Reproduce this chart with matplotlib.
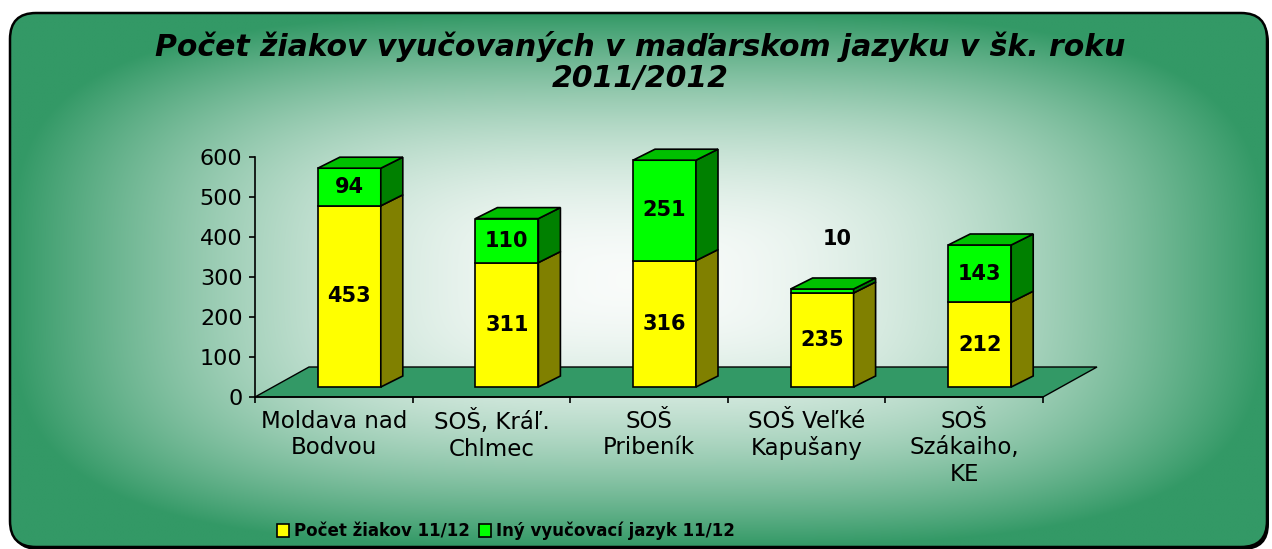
import numpy as np
import matplotlib.pyplot as plt
from matplotlib.patches import Polygon, Rectangle, FancyBboxPatch, Patch

plt.rcParams['font.family'] = ['DejaVu Sans']

CATEGORIES = ['Moldava nad\nBodvou', 'SOŠ, Kráľ.\nChlmec', 'SOŠ\nPribeník',
              'SOŠ Veľké\nKapušany', 'SOŠ\nSzákaiho,\nKE']
POCET = [453, 311, 316, 235, 212]
INY = [94, 110, 251, 10, 143]
SERIES = ['Počet žiakov 11/12', 'Iný vyučovací jazyk 11/12']
TITLE = 'Počet žiakov vyučovaných v maďarskom jazyku v šk. roku\n2011/2012'
YTICKS = [0, 100, 200, 300, 400, 500, 600]

W, H = 1272, 549

# face colours: front, side, top
YELLOW = ('#ffff00', '#808000', '#c0c000')
GREEN = ('#00ff00', '#008000', '#00c000')
FLOOR = '#339966'


def main() -> None:
    fig = plt.figure(figsize=(W / 100, H / 100), dpi=100)

    # rounded frame with a "from center" gradient
    bg = fig.add_axes([0, 0, 1, 1], zorder=-10)
    x0, y0, x1, y1 = 10, 13, 1267, 547
    cx, cy = (x0 + x1) / 2, (y0 + y1) / 2
    xx, yy = np.meshgrid(np.linspace(x0, x1, 700), np.linspace(y0, y1, 320))
    p = 3.5
    t = ((np.abs(xx - cx) / ((x1 - x0) / 2)) ** p + (np.abs(yy - cy) / ((y1 - y0) / 2)) ** p) ** (1 / p)
    f = np.clip(t, 0, 1) ** 1.9
    c_in = np.array([0.975, 0.985, 0.98])
    c_out = np.array([51, 153, 102]) / 255
    img = c_in * (1 - f[..., None]) + c_out * f[..., None]
    im = bg.imshow(img, extent=(x0, x1, y1, y0), aspect='auto', interpolation='bilinear')
    shadow = FancyBboxPatch((x0 + 2, y0 + 3), x1 - x0, y1 - y0,
                            boxstyle='round,pad=0,rounding_size=26', fc='black', ec='none', zorder=-1)
    bg.add_patch(shadow)
    frame = FancyBboxPatch((x0, y0), x1 - x0, y1 - y0,
                           boxstyle='round,pad=0,rounding_size=26', fc='none', ec='black', lw=1.8, zorder=3)
    bg.add_patch(frame)
    im.set_clip_path(frame)
    bg.set_xlim(0, W)
    bg.set_ylim(H, 0)
    bg.axis('off')

    ax = fig.add_axes([255 / W, (H - 397) / H, 788 / W, 240 / H])
    ax.set_xlim(0, len(CATEGORIES))
    ax.set_ylim(0, 600)
    ax.set_facecolor('none')
    ux = len(CATEGORIES) / 788   # data units per pixel
    uy = 600 / 240

    # floor
    n = len(CATEGORIES)
    floor = Polygon([(0, 0), (n, 0), (n + 54 * ux, 30 * uy), (54 * ux, 30 * uy)],
                    closed=True, fc=FLOOR, ec='black', lw=1, clip_on=False, zorder=1)
    ax.add_patch(floor)

    fw = 63 * ux
    dx, dy = 22 * ux, 11 * uy
    base = 10 * uy
    for i in range(n):
        fx = i + 0.5 + 15.5 * ux - fw / 2
        b = base
        for val, cols in ((POCET[i], YELLOW), (INY[i], GREEN)):
            ax.add_patch(Rectangle((fx, b), fw, val, fc=cols[0], ec='black', lw=1.2,
                                   clip_on=False, zorder=2))
            ax.add_patch(Polygon([(fx + fw, b), (fx + fw + dx, b + dy),
                                  (fx + fw + dx, b + val + dy), (fx + fw, b + val)],
                                 closed=True, fc=cols[1], ec='black', lw=1.2, clip_on=False, zorder=2))
            if val / uy > 20:
                ax.text(fx + fw / 2, b + val / 2, str(val), ha='center', va='center',
                        fontsize=15, fontweight='bold', zorder=4)
            else:
                ax.annotate(str(val), xy=(fx + fw / 2, b + val), xytext=(15, 50),
                            textcoords='offset pixels', ha='center', va='center',
                            fontsize=15, fontweight='bold', zorder=4)
            b += val
        ax.add_patch(Polygon([(fx, b), (fx + fw, b), (fx + fw + dx, b + dy), (fx + dx, b + dy)],
                             closed=True, fc=GREEN[2], ec='black', lw=1.2, clip_on=False, zorder=2))

    for s in ('top', 'right'):
        ax.spines[s].set_visible(False)
    for s in ('left', 'bottom'):
        ax.spines[s].set_linewidth(1.2)
        ax.spines[s].set_zorder(3)

    ax.set_yticks(YTICKS)
    ax.tick_params(axis='y', direction='out', length=4, width=1.2, labelsize=16, pad=5)
    ax.set_xticks(range(n + 1))
    ax.set_xticklabels([])
    ax.tick_params(axis='x', which='major', direction='out', length=4, width=1.2)
    ax.set_xticks([i + 0.5 for i in range(n)], minor=True)
    ax.set_xticklabels(CATEGORIES, minor=True, fontsize=16.5, linespacing=1.2)
    ax.tick_params(axis='x', which='minor', length=0, pad=9)

    fig.text(640 / W, 1 - 62 / H, TITLE, ha='center', va='center', fontsize=21.5,
             fontweight='bold', fontstyle='italic', linespacing=1.05)

    handles = [Patch(fc=YELLOW[0], ec='black', lw=1.2), Patch(fc=GREEN[0], ec='black', lw=1.2)]
    fig.legend(handles, SERIES, loc='center', bbox_to_anchor=(506 / W, 1 - 531 / H), ncol=2,
               frameon=False, prop={'weight': 'bold', 'size': 12}, handlelength=0.75,
               handleheight=0.75, handletextpad=0.3, columnspacing=0.5)

    fig.savefig('out.png', dpi=100)


if __name__ == '__main__':
    main()
